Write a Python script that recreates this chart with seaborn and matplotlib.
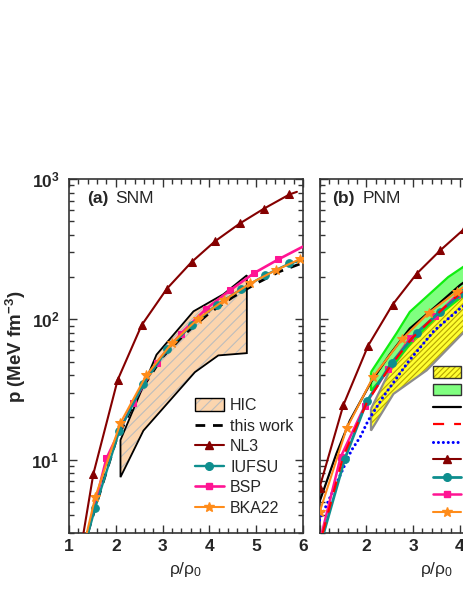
import matplotlib
matplotlib.use("Agg")
import matplotlib.pyplot as plt
import seaborn as sns
import numpy as np
from matplotlib.patches import Patch
from matplotlib.lines import Line2D
from matplotlib.legend_handler import HandlerTuple
from matplotlib.ticker import MultipleLocator, LogLocator, FuncFormatter, NullFormatter

# ---------------- data: (a) SNM ----------------
hic_upper_x = [2.10, 2.87, 3.66, 4.30, 4.80]
hic_upper_p = [13.8, 56.0, 114.0, 151.0, 206.0]
hic_lower_x = [2.10, 2.59, 3.69, 4.19, 4.80]
hic_lower_p = [7.5, 16.1, 42.0, 55.3, 57.4]

snm_this_x = [1.40, 1.60, 2.00, 2.50, 3.00, 3.50, 4.00, 4.50, 5.00, 5.50, 6.00]
snm_this_p = [3.0, 5.0, 13.5, 30.0, 54.0, 80.0, 111.0, 144.0, 180.0, 219.0, 253.0]

snm_nl3_x = [1.31, 1.52, 2.04, 2.55, 3.09, 3.62, 4.12, 4.65, 5.17, 5.71, 5.87]
snm_nl3_p = [3.0, 7.9, 37.0, 90.6, 165.0, 256.0, 360.0, 482.0, 616.0, 776.0, 810.0]

snm_iufsu_x = [1.41, 1.56, 2.07, 2.59, 3.10, 3.63, 4.16, 4.68, 5.19, 5.71, 5.97]
snm_iufsu_p = [3.0, 4.54, 15.9, 34.7, 61.0, 91.6, 127.0, 164.0, 206.0, 250.0, 263.0]

snm_bsp_x = [1.40, 1.80, 2.36, 2.87, 3.39, 3.92, 4.44, 4.96, 5.47, 6.00]
snm_bsp_p = [3.0, 10.2, 25.2, 49.0, 79.0, 118.0, 161.0, 214.0, 267.0, 330.0]

snm_bka_x = [1.38, 1.56, 2.10, 2.65, 3.20, 3.76, 4.32, 4.87, 5.42, 5.94, 6.00]
snm_bka_p = [3.0, 5.4, 18.3, 39.8, 67.8, 101.0, 137.0, 180.0, 224.0, 269.0, 272.0]

# ---------------- data: (b) PNM ----------------
soft_upper_x = [2.10, 2.50, 3.15, 3.57, 4.10]
soft_upper_p = [23.0, 43.0, 83.0, 113.0, 158.0]
soft_lower_x = [2.10, 2.58, 3.29, 4.10]
soft_lower_p = [16.1, 29.4, 43.3, 82.0]

stiff_upper_x = [2.10, 2.65, 2.93, 3.75, 4.10]
stiff_upper_p = [42.0, 80.0, 113.0, 200.0, 240.0]
stiff_lower_x = [2.10, 2.50, 3.00, 3.50, 4.10]
stiff_lower_p = [31.0, 44.0, 71.0, 104.0, 150.0]

pnm_black_x = [1.00, 1.36, 1.65, 2.12, 2.50, 2.93, 3.50, 4.00, 4.10]
pnm_black_p = [5.0, 11.0, 19.0, 36.6, 56.0, 86.0, 125.0, 175.0, 185.0]

pnm_red_x = [1.07, 1.50, 2.01, 2.50, 2.97, 3.50, 4.00, 4.10]
pnm_red_p = [3.0, 10.4, 25.5, 45.7, 73.0, 108.0, 153.0, 162.0]

pnm_blue_x = [1.00, 1.32, 1.68, 1.87, 2.04, 2.36, 2.90, 3.45, 4.00, 4.10]
pnm_blue_p = [3.7, 6.3, 11.6, 14.5, 19.0, 28.0, 50.0, 83.0, 119.0, 126.0]

pnm_nl3_x = [1.00, 1.51, 2.04, 2.56, 3.08, 3.58, 4.09]
pnm_nl3_p = [6.3, 24.5, 65.0, 127.0, 212.0, 310.0, 440.0]

pnm_iufsu_x = [1.09, 1.54, 2.01, 2.54, 3.08, 3.57, 4.07]
pnm_iufsu_p = [3.0, 10.1, 26.0, 49.0, 80.0, 113.0, 155.0]

pnm_bsp_x = [1.05, 1.45, 1.97, 2.47, 2.93, 3.47, 3.93, 4.10]
pnm_bsp_p = [3.0, 10.4, 24.3, 44.5, 73.0, 105.0, 148.0, 162.0]

pnm_bka_x = [1.00, 1.58, 2.15, 2.76, 3.33, 3.93, 4.10]
pnm_bka_p = [4.2, 16.7, 39.0, 72.0, 111.0, 157.0, 172.0]

snm_labels = ["HIC", "this work", "NL3", "IUFSU", "BSP", "BKA22"]
pnm_labels = ["HIC (Asy-soft)", "HIC (Asy-stiff)", "this work", "model A", "model B",
              "NL3", "IUFSU", "BSP", "BKA22"]
x_ticks = [1, 2, 3, 4, 5, 6]

# ---------------- style ----------------
sns.set_style("ticks")
plt.rcParams["font.family"] = ["Liberation Sans", "DejaVu Sans"]
plt.rcParams["mathtext.fontset"] = "custom"
plt.rcParams["mathtext.rm"] = "Liberation Sans"
plt.rcParams["mathtext.bf"] = "Liberation Sans:bold"
plt.rcParams["mathtext.it"] = "Liberation Sans:italic"
plt.rcParams["hatch.linewidth"] = 0.8

C_NL3 = "#850000"
C_IUF = "#0E8E8E"
C_BSP = "#FF1493"
C_BKA = "#FF8C1A"
C_HIC = "#FCD5AE"
C_HICH = "#BDBDBD"
C_YEL = "#FFFF30"
C_YELH = "#B4A400"
C_GRN = "#80FF80"
C_GRNE = "#10EE10"
SPINE = "#333333"

fig = plt.figure(figsize=(4.63, 5.99), dpi=100)
W, H = 463.0, 599.0
ax_a = fig.add_axes([69 / W, 66 / H, 234 / W, 354 / H])
ax_b = fig.add_axes([319.5 / W, 66 / H, 234 / W, 354 / H])


def curve(ax, x, y, color, lw, marker=None, ms=None, idx=None, ls="-", z=3):
    sns.lineplot(x=x, y=y, ax=ax, color=color, linewidth=lw, marker=marker,
                 markersize=ms, markevery=idx, markeredgecolor=color,
                 markerfacecolor=color, sort=False, estimator=None, zorder=z)
    ln = ax.lines[-1]
    ln.set_linestyle(ls)
    return ln


def band(ax, ux, up, lx, lp, fc, hatch, hc, ec, elw, z=1):
    px = list(ux) + list(lx)[::-1]
    pp = list(up) + list(lp)[::-1]
    ax.fill(px, pp, facecolor=fc, edgecolor=hc, hatch=hatch, linewidth=0, zorder=z)
    ax.fill(px, pp, facecolor="none", edgecolor=ec, linewidth=elw, zorder=z + 0.1)


def style(ax, panel):
    ax.set_yscale("log")
    ax.set_xlim(1, 6)
    ax.set_ylim(3, 1000)
    ax.set_xticks(x_ticks)
    ax.xaxis.set_minor_locator(MultipleLocator(0.2))
    ax.yaxis.set_major_locator(LogLocator(base=10))
    ax.yaxis.set_minor_locator(LogLocator(base=10, subs=np.arange(2, 10)))
    ax.yaxis.set_minor_formatter(NullFormatter())
    for s in ax.spines.values():
        s.set_color(SPINE)
        s.set_linewidth(1.2)
    ax.tick_params(which="both", direction="in", top=True, right=True,
                   color=SPINE, width=1.0)
    ax.tick_params(which="major", length=6)
    ax.tick_params(which="minor", length=3.5)
    ax.tick_params(axis="x", labelsize=12.5, pad=4.5)
    ax.tick_params(axis="y", labelsize=12.5, pad=7)
    if panel == "a":
        ax.xaxis.set_major_formatter(FuncFormatter(lambda v, p: "%d" % v))
        ax.yaxis.set_major_formatter(FuncFormatter(
            lambda v, p: r"$\mathbf{10}^{\mathregular{%d}}$" % round(np.log10(v))))
    else:
        ax.xaxis.set_major_formatter(FuncFormatter(lambda v, p: "" if v < 1.5 else "%d" % v))
        ax.yaxis.set_major_formatter(NullFormatter())
    for t in ax.get_xticklabels() + ax.get_yticklabels():
        t.set_fontweight("bold")
    ax.set_xlabel(r"ρ/ρ$_{0}$", fontsize=12.5, labelpad=4)
    ax.grid(False)


# ---------------- panel (a) ----------------
band(ax_a, hic_upper_x, hic_upper_p, hic_lower_x, hic_lower_p,
     C_HIC, "///", C_HICH, "black", 1.3)
curve(ax_a, snm_this_x, snm_this_p, "black", 2.0, ls=(0, (3.5, 2.8)), z=3)
curve(ax_a, snm_bsp_x, snm_bsp_p, C_BSP, 1.9, "s", 5, list(range(1, 9)), z=3.2)
curve(ax_a, snm_iufsu_x, snm_iufsu_p, C_IUF, 1.7, "o", 5.5, list(range(1, 10)), z=3.3)
curve(ax_a, snm_bka_x, snm_bka_p, C_BKA, 1.5, "*", 7.5, list(range(1, 10)), z=3.4)
curve(ax_a, snm_nl3_x, snm_nl3_p, C_NL3, 1.5, "^", 6, list(range(1, 10)), z=3.5)

style(ax_a, "a")
ax_a.set_ylabel(r"p (MeV fm$^{\mathbf{-3}}$)", fontsize=13.5, fontweight="bold")
ax_a.yaxis.set_label_coords(-0.175, 0.525)
ax_a.text(0.077, 0.946, "(a)", transform=ax_a.transAxes, fontsize=12.5,
          fontweight="bold", va="center", ha="left")
ax_a.text(0.197, 0.946, "SNM", transform=ax_a.transAxes, fontsize=12.5,
          va="center", ha="left")

tuple_handler = {tuple: HandlerTuple(ndivide=1, pad=0)}
hic_h = (Patch(facecolor=C_HIC, edgecolor=C_HICH, hatch="///", linewidth=0),
         Patch(facecolor="none", edgecolor="black", linewidth=1.0))
h_a = [hic_h,
       Line2D([], [], color="black", lw=2.0, ls=(0, (3.5, 2.8))),
       Line2D([], [], color=C_NL3, lw=1.5, marker="^", ms=6),
       Line2D([], [], color=C_IUF, lw=1.7, marker="o", ms=5.5),
       Line2D([], [], color=C_BSP, lw=1.9, marker="s", ms=5),
       Line2D([], [], color=C_BKA, lw=1.5, marker="*", ms=7.5)]
leg_a = ax_a.legend(h_a, snm_labels, loc="upper left",
                    bbox_to_anchor=(195 / W, 1 - 398 / H), bbox_transform=fig.transFigure,
                    frameon=False, fontsize=11.5, borderpad=0, borderaxespad=0,
                    handlelength=1.8, handleheight=0.9, handletextpad=0.4,
                    labelspacing=0.34, handler_map=tuple_handler)

# ---------------- panel (b) ----------------
band(ax_b, soft_upper_x, soft_upper_p, soft_lower_x, soft_lower_p,
     C_YEL, "//////", C_YELH, "#8C8C8C", 1.6, z=1)
band(ax_b, stiff_upper_x, stiff_upper_p, stiff_lower_x, stiff_lower_p,
     C_GRN, None, C_GRN, C_GRNE, 1.6, z=1.2)
blue = curve(ax_b, pnm_blue_x, pnm_blue_p, "#0000FF", 2.2, ls=(0, (0.01, 1.6)), z=3)
blue.set_dash_capstyle("round")
curve(ax_b, pnm_black_x, pnm_black_p, "black", 1.6, z=3.1)
curve(ax_b, pnm_bsp_x, pnm_bsp_p, C_BSP, 1.8, "s", 5, list(range(1, 7)), z=3.2)
curve(ax_b, pnm_iufsu_x, pnm_iufsu_p, C_IUF, 2.0, "o", 5.5, list(range(1, 7)), z=3.3)
curve(ax_b, pnm_red_x, pnm_red_p, "#FF0000", 1.6, ls=(0, (5, 4.5)), z=3.4)
curve(ax_b, pnm_bka_x, pnm_bka_p, C_BKA, 1.5, "*", 7.5, list(range(0, 6)), z=3.5)
curve(ax_b, pnm_nl3_x, pnm_nl3_p, C_NL3, 1.5, "^", 6, list(range(0, 7)), z=3.6)

style(ax_b, "b")
ax_b.text(0.052, 0.946, "(b)", transform=ax_b.transAxes, fontsize=12.5,
          fontweight="bold", va="center", ha="left")
ax_b.text(0.183, 0.946, "PNM", transform=ax_b.transAxes, fontsize=12.5,
          va="center", ha="left")

soft_h = (Patch(facecolor=C_YEL, edgecolor=C_YELH, hatch="//////", linewidth=0),
          Patch(facecolor="none", edgecolor="#333333", linewidth=1.0))
stiff_h = (Patch(facecolor=C_GRN, edgecolor=C_GRN, linewidth=0),
           Patch(facecolor="none", edgecolor="#333333", linewidth=1.0))
h_b = [soft_h, stiff_h,
       Line2D([], [], color="black", lw=1.6),
       Line2D([], [], color="#FF0000", lw=1.6, ls=(0, (5, 4.5))),
       Line2D([], [], color="#0000FF", lw=2.2, ls=(0, (0.01, 1.6)), dash_capstyle="round"),
       Line2D([], [], color=C_NL3, lw=1.5, marker="^", ms=6),
       Line2D([], [], color=C_IUF, lw=2.0, marker="o", ms=5.5),
       Line2D([], [], color=C_BSP, lw=1.8, marker="s", ms=5),
       Line2D([], [], color=C_BKA, lw=1.5, marker="*", ms=7.5)]
leg_b = ax_b.legend(h_b, pnm_labels, loc="upper left",
                    bbox_to_anchor=(433 / W, 1 - 366 / H), bbox_transform=fig.transFigure,
                    frameon=False, fontsize=10, borderpad=0, borderaxespad=0,
                    handlelength=2.0, handleheight=0.9, handletextpad=0.4,
                    labelspacing=0.25, handler_map=tuple_handler)

fig.savefig("out.png", dpi=100)
